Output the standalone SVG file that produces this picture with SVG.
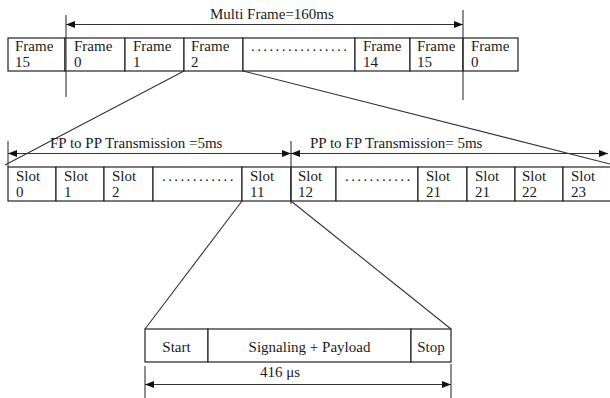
<svg xmlns="http://www.w3.org/2000/svg" width="610" height="398" viewBox="0 0 610 398">
<defs>
<marker id="ah" markerWidth="9" markerHeight="7" refX="9" refY="3.5" orient="auto-start-reverse" markerUnits="userSpaceOnUse">
<path d="M0,0 L9,3.5 L0,7 Z" fill="#111"/>
</marker>
<style>
.cell{fill:#fff;stroke:#222;stroke-width:1.2}
.t{font-family:"Liberation Serif","Times New Roman",serif;font-size:15px;fill:#1a1a1a}
.m{text-anchor:middle}
.dots{letter-spacing:2.4px}
.ln{stroke:#333;stroke-width:1.1;fill:none}
.dim{stroke:#333;stroke-width:1.2;fill:none}
</style>
</defs>
<rect width="610" height="398" fill="#fff"/>

<g id="frames">
<g id="f15a"><rect class="cell" x="8" y="38" width="57" height="33"/><text class="t" x="15" y="51">Frame</text><text class="t" x="15" y="67">15</text></g>
<g id="f0a"><rect class="cell" x="65" y="38" width="60" height="33"/><text class="t" x="74" y="51">Frame</text><text class="t" x="74" y="67">0</text></g>
<g id="f1"><rect class="cell" x="125" y="38" width="59" height="33"/><text class="t" x="133" y="51">Frame</text><text class="t" x="133" y="67">1</text></g>
<g id="f2"><rect class="cell" x="184" y="38" width="59" height="33"/><text class="t" x="191" y="51">Frame</text><text class="t" x="191" y="67">2</text></g>
<g id="fdots"><rect class="cell" x="243" y="38" width="112" height="33"/><text class="t dots" x="251" y="51">................</text></g>
<g id="f14"><rect class="cell" x="355" y="38" width="55" height="33"/><text class="t" x="363" y="51">Frame</text><text class="t" x="363" y="67">14</text></g>
<g id="f15b"><rect class="cell" x="410" y="38" width="53" height="33"/><text class="t" x="417" y="51">Frame</text><text class="t" x="417" y="67">15</text></g>
<g id="f0b"><rect class="cell" x="463" y="38" width="55" height="33"/><text class="t" x="471" y="51">Frame</text><text class="t" x="471" y="67">0</text></g>
</g>

<g id="slots">
<g id="s0"><rect class="cell" x="8" y="167" width="48" height="34"/><text class="t" x="16" y="181">Slot</text><text class="t" x="16" y="197">0</text></g>
<g id="s1"><rect class="cell" x="56" y="167" width="48" height="34"/><text class="t" x="64" y="181">Slot</text><text class="t" x="64" y="197">1</text></g>
<g id="s2"><rect class="cell" x="104" y="167" width="49" height="34"/><text class="t" x="112" y="181">Slot</text><text class="t" x="112" y="197">2</text></g>
<g id="sdots1"><rect class="cell" x="153" y="167" width="89" height="34"/><text class="t dots" x="162" y="181">............</text></g>
<g id="s11"><rect class="cell" x="242" y="167" width="49" height="34"/><text class="t" x="250" y="181">Slot</text><text class="t" x="250" y="197">11</text></g>
<g id="s12"><rect class="cell" x="291" y="167" width="45" height="34"/><text class="t" x="298" y="181">Slot</text><text class="t" x="298" y="197">12</text></g>
<g id="sdots2"><rect class="cell" x="336" y="167" width="82" height="34"/><text class="t dots" x="345" y="181">...........</text></g>
<g id="s21a"><rect class="cell" x="418" y="167" width="49" height="34"/><text class="t" x="426" y="181">Slot</text><text class="t" x="426" y="197">21</text></g>
<g id="s21b"><rect class="cell" x="467" y="167" width="48" height="34"/><text class="t" x="475" y="181">Slot</text><text class="t" x="475" y="197">21</text></g>
<g id="s22"><rect class="cell" x="515" y="167" width="48" height="34"/><text class="t" x="522" y="181">Slot</text><text class="t" x="522" y="197">22</text></g>
<g id="s23"><rect class="cell" x="563" y="167" width="50" height="34"/><text class="t" x="571" y="181">Slot</text><text class="t" x="571" y="197">23</text></g>
</g>

<g id="slotdetail">
<g id="start"><rect class="cell" x="145" y="329" width="63" height="33"/><text class="t m" x="176.5" y="352">Start</text></g>
<g id="payload"><rect class="cell" x="208" y="329" width="203" height="33"/><text class="t m" x="309.5" y="352">Signaling + Payload</text></g>
<g id="stop"><rect class="cell" x="411" y="329" width="40" height="33"/><text class="t m" x="431" y="352">Stop</text></g>
</g>

<g id="connectors">
<line class="ln" x1="66" y1="15" x2="66" y2="97"/>
<line class="ln" x1="463" y1="10" x2="463" y2="100"/>
<line class="dim" x1="66" y1="24.5" x2="463" y2="24.5" marker-start="url(#ah)" marker-end="url(#ah)"/>
<line class="ln" x1="184" y1="71" x2="5" y2="165"/>
<line class="ln" x1="243" y1="71" x2="610" y2="164"/>
<line class="ln" x1="8" y1="141" x2="8" y2="167"/>
<line class="ln" x1="291" y1="141" x2="291" y2="204"/>
<line class="dim" x1="8" y1="153.5" x2="291" y2="153.5" marker-start="url(#ah)" marker-end="url(#ah)"/>
<line class="dim" x1="291" y1="153.5" x2="608" y2="153.5" marker-start="url(#ah)" marker-end="url(#ah)"/>
<line class="ln" x1="242" y1="201" x2="145" y2="329"/>
<line class="ln" x1="291" y1="201" x2="451" y2="329"/>
<line class="ln" x1="145" y1="366" x2="145" y2="398"/>
<line class="ln" x1="451" y1="364" x2="451" y2="398"/>
<line class="dim" x1="145" y1="384.5" x2="451" y2="384.5" marker-start="url(#ah)" marker-end="url(#ah)"/>
</g>

<g id="labels">
<text class="t" x="210" y="19">Multi Frame=160ms</text>
<text class="t" x="50" y="148">FP to PP Transmission =5ms</text>
<text class="t" x="310" y="148">PP to FP Transmission= 5ms</text>
<text class="t m" x="280" y="377">416 μs</text>
</g>
</svg>
